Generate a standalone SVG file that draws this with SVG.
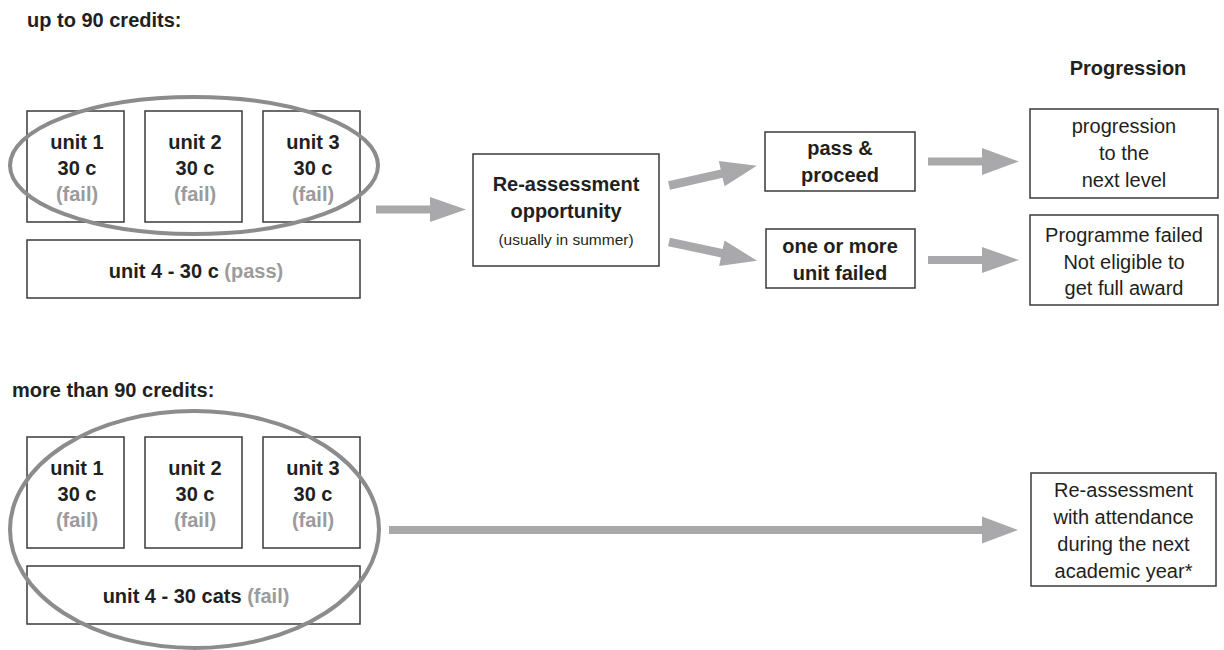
<svg xmlns="http://www.w3.org/2000/svg" width="1224" height="650" viewBox="0 0 1224 650">
<style>
text{font-family:"Liberation Sans",Arial,Helvetica,sans-serif;fill:#231f20}
.b{font-weight:bold;font-size:20px}
.r{font-size:20px}
.s{font-size:15.5px}
.m{text-anchor:middle}
.g{fill:#9b9b9b}
.box{fill:#fff;stroke:#3a3a3a;stroke-width:1.5}
.ell{fill:none;stroke:#8c8c8c;stroke-width:4}
.arr{fill:#a9a9ab}
</style>
<rect width="1224" height="650" fill="#fff"/>
<g id="titles">
<text class="b" x="27" y="27">up to 90 credits:</text>
<text class="b m" x="1128" y="75">Progression</text>
<text class="b" x="12" y="397">more than 90 credits:</text>
</g>
<g id="top-unit1"><rect class="box" x="27" y="111" width="97" height="111"/>
<text class="b m" x="77" y="149">unit 1</text><text class="b m" x="77" y="175">30 c</text><text class="b m g" x="77" y="201">(fail)</text></g>
<g id="top-unit2"><rect class="box" x="145" y="111" width="97" height="111"/>
<text class="b m" x="195" y="149">unit 2</text><text class="b m" x="195" y="175">30 c</text><text class="b m g" x="195" y="201">(fail)</text></g>
<g id="top-unit3"><rect class="box" x="263" y="111" width="97" height="111"/>
<text class="b m" x="313" y="149">unit 3</text><text class="b m" x="313" y="175">30 c</text><text class="b m g" x="313" y="201">(fail)</text></g>
<g id="top-unit4"><rect class="box" x="27" y="240" width="333" height="58"/>
<text class="b m" x="196" y="278">unit 4 - 30 c <tspan class="g">(pass)</tspan></text></g>
<g id="top-ellipse"><ellipse class="ell" cx="194" cy="165.5" rx="184" ry="68.5"/></g>
<g id="reassessment"><rect class="box" x="473" y="154" width="186" height="112"/>
<text class="b m" x="566" y="191">Re-assessment</text><text class="b m" x="566" y="218">opportunity</text><text class="s m" x="566" y="245">(usually in summer)</text></g>
<g id="pass"><rect class="box" x="765" y="132" width="150" height="59"/>
<text class="b m" x="840" y="155">pass &amp;</text><text class="b m" x="840" y="182">proceed</text></g>
<g id="failed"><rect class="box" x="766" y="229" width="149" height="59"/>
<text class="b m" x="840" y="253">one or more</text><text class="b m" x="840" y="280">unit failed</text></g>
<g id="progression"><rect class="box" x="1030" y="109" width="188" height="89"/>
<text class="r m" x="1124" y="133">progression</text><text class="r m" x="1124" y="160">to the</text><text class="r m" x="1124" y="187">next level</text></g>
<g id="programme-failed"><rect class="box" x="1030" y="215" width="188" height="90"/>
<text class="r m" x="1124" y="242">Programme failed</text><text class="r m" x="1124" y="269">Not eligible to</text><text class="r m" x="1124" y="295">get full award</text></g>
<g id="bot-unit1"><rect class="box" x="27" y="437" width="97" height="111"/>
<text class="b m" x="77" y="475">unit 1</text><text class="b m" x="77" y="501">30 c</text><text class="b m g" x="77" y="527">(fail)</text></g>
<g id="bot-unit2"><rect class="box" x="145" y="437" width="97" height="111"/>
<text class="b m" x="195" y="475">unit 2</text><text class="b m" x="195" y="501">30 c</text><text class="b m g" x="195" y="527">(fail)</text></g>
<g id="bot-unit3"><rect class="box" x="263" y="437" width="97" height="111"/>
<text class="b m" x="313" y="475">unit 3</text><text class="b m" x="313" y="501">30 c</text><text class="b m g" x="313" y="527">(fail)</text></g>
<g id="bot-unit4"><rect class="box" x="27" y="566" width="333" height="58"/>
<text class="b m" x="196" y="603">unit 4 - 30 cats <tspan class="g">(fail)</tspan></text></g>
<g id="bot-ellipse"><ellipse class="ell" cx="194.5" cy="529.5" rx="184.5" ry="118.5"/></g>
<g id="reassess-attendance"><rect class="box" x="1031" y="473" width="185" height="113"/>
<text class="r m" x="1123.5" y="497">Re-assessment</text><text class="r m" x="1123.5" y="524">with attendance</text><text class="r m" x="1123.5" y="551">during the next</text><text class="r m" x="1123.5" y="578">academic year*</text></g>
<g id="connectors">
<polygon class="arr" points="376,205.5 430,205.5 430,197 466,209.5 430,222 430,213.5 376,213.5"/>
<polygon class="arr" transform="translate(669,185.5) rotate(-12.7)" points="0,-4.25 54,-4.25 54,-13 90,0 54,13 54,4.25 0,4.25"/>
<polygon class="arr" transform="translate(669,242) rotate(12)" points="0,-4.25 54,-4.25 54,-13 90,0 54,13 54,4.25 0,4.25"/>
<polygon class="arr" points="928,157.5 982,157.5 982,148 1019,161.5 982,175 982,165.5 928,165.5"/>
<polygon class="arr" points="928,256 982,256 982,247 1019,260 982,273 982,264 928,264"/>
<polygon class="arr" points="389,526 982,526 982,516.5 1018,530 982,543.5 982,534 389,534"/>
</g>
</svg>
